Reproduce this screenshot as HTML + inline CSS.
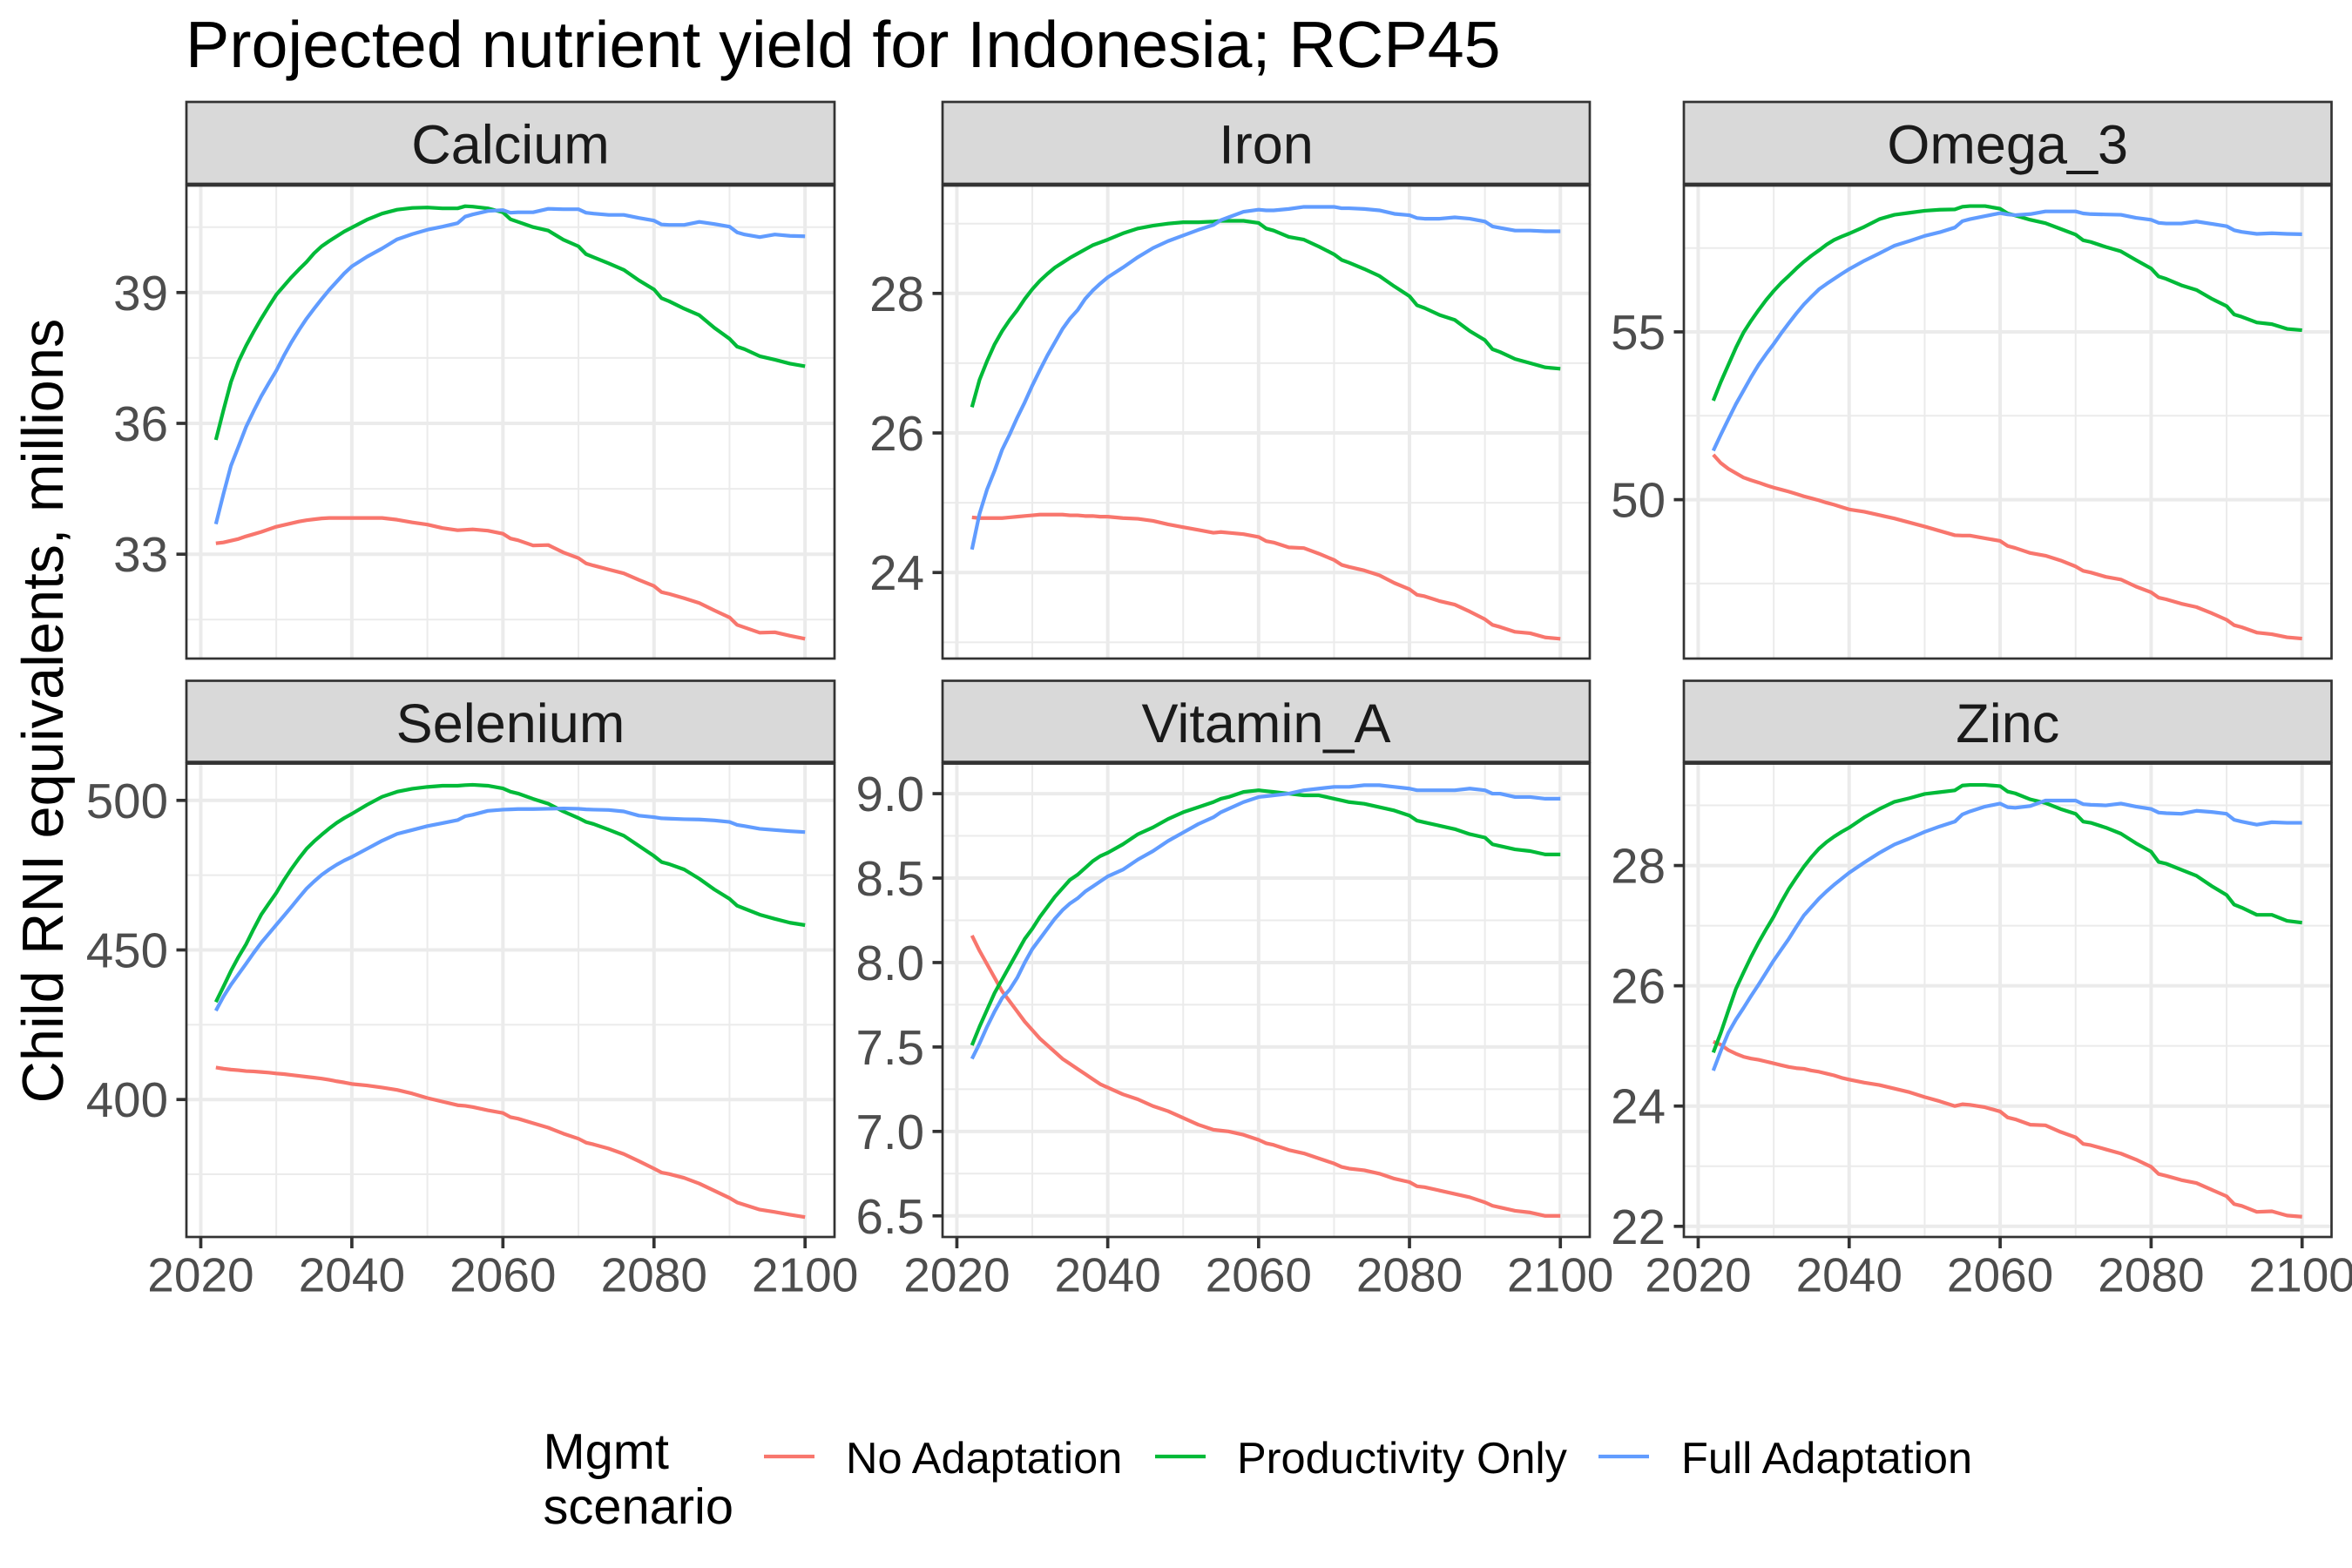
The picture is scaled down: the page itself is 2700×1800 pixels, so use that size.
<!DOCTYPE html>
<html lang="en">
<head>
<meta charset="utf-8">
<title>Projected nutrient yield for Indonesia; RCP45</title>
<style>
html,body{margin:0;padding:0;background:#fff;}
svg{display:block;font-family:"Liberation Sans",Arial,sans-serif;text-rendering:geometricPrecision;}
</style>
</head>
<body>
<svg id="chart" xmlns="http://www.w3.org/2000/svg" width="2700" height="1800" viewBox="0 0 2700 1800">
<rect x="0" y="0" width="2700" height="1800" fill="#ffffff"/>
<text x="213" y="77" font-size="75.45" fill="#000000">Projected nutrient yield for Indonesia; RCP45</text>
<text transform="translate(72,816) rotate(-90)" text-anchor="middle" font-size="66.7" fill="#000000">Child RNI equivalents, millions</text>
<g id="panels"></g>
<g>
<text x="623.5" y="1686" font-size="57.8" fill="#000000">Mgmt</text>
<text x="623.5" y="1749" font-size="57.8" fill="#000000">scenario</text>
<line x1="877" x2="935" y1="1672" y2="1672" stroke="#F8766D" stroke-width="4.2"/>
<text x="971" y="1691" font-size="50.5" fill="#000000">No Adaptation</text>
<line x1="1326" x2="1384" y1="1672" y2="1672" stroke="#00BA38" stroke-width="4.2"/>
<text x="1420" y="1691" font-size="50.5" fill="#000000">Productivity Only</text>
<line x1="1835" x2="1893" y1="1672" y2="1672" stroke="#619CFF" stroke-width="4.2"/>
<text x="1930" y="1691" font-size="50.5" fill="#000000">Full Adaptation</text>
</g>
</svg>
<script>
const years = [2022,2023,2024,2025,2026,2027,2028,2029,2030,2031,2032,2033,2034,2035,2036,2037,2038,2039,2040,2042,2044,2046,2048,2050,2052,2054,2055,2056,2058,2060,2061,2062,2064,2066,2068,2070,2071,2072,2074,2076,2078,2080,2081,2082,2084,2086,2088,2090,2091,2092,2094,2096,2098,2100];
const xTicks = [2020,2040,2060,2080,2100];
const xMinorTicks = [2030,2050,2070,2090];
const xDomain = [2018.1,2103.9];

const calciumNoAdaptation = [33.25,33.27,33.31,33.35,33.41,33.46,33.51,33.57,33.63,33.67,33.71,33.75,33.78,33.8,33.82,33.83,33.83,33.83,33.83,33.83,33.83,33.79,33.73,33.68,33.6,33.55,33.56,33.57,33.54,33.47,33.36,33.32,33.2,33.21,33.04,32.91,32.79,32.74,32.65,32.56,32.41,32.27,32.13,32.09,31.99,31.88,31.71,31.55,31.38,31.32,31.2,31.21,31.13,31.06];
const calciumProductivityOnly = [35.62,36.3,36.95,37.42,37.78,38.1,38.4,38.68,38.95,39.15,39.35,39.53,39.7,39.9,40.06,40.18,40.29,40.4,40.49,40.67,40.81,40.9,40.94,40.95,40.93,40.93,40.98,40.97,40.93,40.84,40.68,40.62,40.5,40.42,40.21,40.06,39.88,39.81,39.67,39.52,39.28,39.07,38.87,38.8,38.63,38.48,38.19,37.94,37.76,37.7,37.54,37.46,37.37,37.31];
const calciumFullAdaptation = [33.69,34.38,35.03,35.47,35.92,36.28,36.62,36.92,37.21,37.55,37.86,38.14,38.4,38.63,38.85,39.06,39.25,39.44,39.6,39.82,40.01,40.22,40.34,40.44,40.51,40.59,40.74,40.79,40.87,40.89,40.83,40.84,40.84,40.92,40.91,40.91,40.83,40.81,40.78,40.78,40.71,40.65,40.56,40.55,40.55,40.62,40.57,40.51,40.38,40.33,40.27,40.33,40.3,40.29];
const calciumTicks = [33,36,39];
const calciumMinorTicks = [31.5,34.5,37.5,40.5];
const calciumDomain = [30.607,41.473];

const ironNoAdaptation = [24.79,24.78,24.78,24.78,24.78,24.79,24.8,24.81,24.82,24.83,24.83,24.83,24.83,24.82,24.82,24.81,24.81,24.8,24.8,24.78,24.77,24.74,24.69,24.65,24.61,24.57,24.58,24.57,24.55,24.51,24.45,24.43,24.36,24.35,24.27,24.18,24.11,24.08,24.03,23.96,23.85,23.76,23.68,23.66,23.59,23.54,23.44,23.33,23.25,23.22,23.15,23.13,23.07,23.05];
const ironProductivityOnly = [26.37,26.76,27.03,27.27,27.46,27.62,27.76,27.92,28.06,28.18,28.28,28.37,28.44,28.51,28.57,28.63,28.69,28.73,28.77,28.86,28.93,28.97,29.0,29.02,29.02,29.03,29.04,29.04,29.04,29.01,28.93,28.9,28.81,28.77,28.67,28.56,28.48,28.44,28.35,28.25,28.1,27.96,27.83,27.79,27.69,27.62,27.46,27.33,27.2,27.16,27.06,27.0,26.94,26.92];
const ironFullAdaptation = [24.33,24.84,25.19,25.46,25.76,25.98,26.22,26.44,26.68,26.9,27.11,27.3,27.49,27.64,27.76,27.92,28.04,28.14,28.23,28.37,28.52,28.65,28.75,28.83,28.91,28.98,29.05,29.09,29.17,29.2,29.19,29.19,29.21,29.24,29.24,29.24,29.22,29.22,29.21,29.19,29.14,29.12,29.08,29.07,29.07,29.09,29.07,29.03,28.96,28.94,28.9,28.9,28.89,28.89];
const ironTicks = [24,26,28];
const ironMinorTicks = [23,25,27,29];
const ironDomain = [22.767,29.558];

const omegaNoAdaptation = [51.34,51.09,50.92,50.79,50.66,50.58,50.51,50.43,50.36,50.3,50.24,50.17,50.1,50.04,49.98,49.91,49.85,49.78,49.71,49.64,49.54,49.44,49.32,49.2,49.07,48.94,48.93,48.93,48.85,48.77,48.62,48.56,48.41,48.33,48.19,48.01,47.88,47.83,47.7,47.62,47.41,47.24,47.08,47.03,46.9,46.8,46.62,46.42,46.26,46.2,46.04,45.99,45.9,45.86];
const omegaProductivityOnly = [52.95,53.51,54.02,54.53,54.98,55.33,55.65,55.95,56.22,56.46,56.67,56.89,57.09,57.27,57.43,57.6,57.74,57.84,57.93,58.13,58.36,58.49,58.55,58.61,58.64,58.65,58.73,58.75,58.75,58.67,58.53,58.47,58.34,58.24,58.07,57.9,57.73,57.68,57.53,57.4,57.14,56.89,56.65,56.58,56.39,56.25,55.99,55.77,55.52,55.45,55.28,55.23,55.09,55.05];
const omegaFullAdaptation = [51.46,51.94,52.4,52.85,53.25,53.65,54.02,54.34,54.64,54.96,55.26,55.55,55.82,56.05,56.27,56.43,56.58,56.73,56.87,57.12,57.34,57.57,57.71,57.86,57.97,58.11,58.3,58.36,58.45,58.54,58.5,58.48,58.51,58.59,58.59,58.59,58.53,58.51,58.5,58.49,58.4,58.34,58.25,58.23,58.23,58.29,58.22,58.15,58.03,57.98,57.92,57.94,57.92,57.91];
const omegaTicks = [50,55];
const omegaMinorTicks = [47.5,52.5,57.5];
const omegaDomain = [45.265,59.387];

const seleniumNoAdaptation = [410.7,410.3,410,409.8,409.5,409.4,409.2,409,408.7,408.5,408.2,407.9,407.6,407.3,407,406.6,406.1,405.7,405.2,404.7,404,403.2,402,400.5,399.3,398.1,397.9,397.5,396.4,395.5,394.1,393.6,392.1,390.6,388.6,386.9,385.6,385,383.6,381.8,379.4,376.9,375.6,375.1,373.8,371.9,369.5,367.1,365.6,364.8,363.2,362.4,361.5,360.7];
const seleniumProductivityOnly = [432.6,437.7,443,447.7,451.9,457,461.8,465.5,469.1,473.3,477.1,480.6,483.8,486.3,488.5,490.6,492.5,494.1,495.5,498.5,501.2,502.9,503.9,504.5,504.9,504.9,505.1,505.2,504.9,504,502.9,502.3,500.5,498.9,496.3,494.1,492.8,492.1,490.2,488.2,484.8,481.4,479.4,478.7,476.9,473.8,470.2,467.1,464.8,463.8,461.8,460.4,459.1,458.3];
const seleniumFullAdaptation = [429.7,434.4,438.4,441.9,445.4,449,452.4,455.4,458.4,461.4,464.4,467.5,470.5,472.9,475.1,476.9,478.5,479.9,481.1,483.8,486.5,488.8,490.1,491.4,492.4,493.4,494.7,495.2,496.5,496.9,497,497.1,497.1,497.2,497.3,497.2,497,496.9,496.8,496.3,494.9,494.4,494,493.9,493.7,493.6,493.3,492.8,491.8,491.4,490.5,490.1,489.7,489.4];
const seleniumTicks = [400,450,500];
const seleniumMinorTicks = [375,425,475];
const seleniumDomain = [354.05,512.58];

const vitaminNoAdaptation = [8.16,8.07,7.99,7.91,7.83,7.77,7.71,7.65,7.6,7.55,7.51,7.47,7.43,7.4,7.37,7.34,7.31,7.28,7.26,7.22,7.19,7.15,7.12,7.08,7.04,7.01,7.005,7.0,6.98,6.95,6.93,6.92,6.89,6.87,6.84,6.81,6.79,6.78,6.77,6.75,6.72,6.7,6.675,6.67,6.65,6.63,6.61,6.58,6.56,6.55,6.53,6.52,6.5,6.5];
const vitaminProductivityOnly = [7.51,7.62,7.72,7.82,7.9,7.98,8.06,8.14,8.2,8.27,8.33,8.39,8.44,8.49,8.52,8.56,8.6,8.63,8.65,8.7,8.76,8.8,8.85,8.89,8.92,8.95,8.97,8.98,9.01,9.02,9.015,9.01,9.0,8.99,8.99,8.97,8.96,8.95,8.94,8.92,8.9,8.87,8.84,8.83,8.81,8.79,8.76,8.74,8.7,8.69,8.67,8.66,8.64,8.64];
const vitaminFullAdaptation = [7.43,7.52,7.62,7.71,7.79,7.84,7.91,8.0,8.08,8.14,8.2,8.26,8.31,8.35,8.38,8.42,8.45,8.48,8.51,8.55,8.61,8.66,8.72,8.77,8.82,8.86,8.89,8.91,8.95,8.98,8.985,8.99,9.0,9.02,9.03,9.04,9.04,9.04,9.05,9.05,9.04,9.03,9.02,9.02,9.02,9.02,9.03,9.02,9.0,9.0,8.98,8.98,8.97,8.97];
const vitaminTicks = [6.5,7,7.5,8,8.5,9];
const vitaminTickLabels = ['6.5','7.0','7.5','8.0','8.5','9.0'];
const vitaminMinorTicks = [6.75,7.25,7.75,8.25,8.75];
const vitaminDomain = [6.375,9.183];

const zincNoAdaptation = [25.07,25.02,24.93,24.87,24.82,24.79,24.77,24.74,24.71,24.68,24.65,24.63,24.62,24.59,24.57,24.54,24.51,24.47,24.44,24.39,24.35,24.29,24.23,24.15,24.08,24.0,24.03,24.02,23.98,23.91,23.81,23.78,23.69,23.68,23.57,23.48,23.37,23.35,23.28,23.21,23.11,22.99,22.87,22.84,22.77,22.72,22.61,22.5,22.37,22.34,22.24,22.25,22.18,22.16];
const zincProductivityOnly = [24.89,25.22,25.59,25.95,26.22,26.48,26.72,26.94,27.15,27.39,27.61,27.8,27.98,28.14,28.28,28.39,28.48,28.56,28.63,28.8,28.94,29.06,29.12,29.19,29.22,29.25,29.33,29.34,29.34,29.32,29.23,29.2,29.1,29.04,28.94,28.86,28.73,28.71,28.63,28.53,28.37,28.23,28.06,28.03,27.93,27.83,27.66,27.51,27.35,27.3,27.18,27.18,27.08,27.05];
const zincFullAdaptation = [24.59,24.92,25.22,25.44,25.63,25.83,26.02,26.22,26.42,26.6,26.78,26.98,27.17,27.31,27.45,27.57,27.68,27.78,27.88,28.05,28.21,28.35,28.45,28.56,28.65,28.73,28.85,28.9,28.98,29.03,28.97,28.96,28.99,29.08,29.08,29.08,29.02,29.01,29.0,29.03,28.98,28.94,28.88,28.87,28.86,28.91,28.89,28.86,28.76,28.73,28.68,28.72,28.71,28.71];
const zincTicks = [22,24,26,28];
const zincMinorTicks = [23,25,27,29];
const zincDomain = [21.823,29.709];

const seriesKeys = ['no-adaptation','productivity-only','full-adaptation'];
const seriesColors = ['#F8766D','#00BA38','#619CFF'];

const SVG_NS = 'http://www.w3.org/2000/svg';
const root = document.getElementById('panels');

function make(tag, attrs, parent, text) {
  const node = document.createElementNS(SVG_NS, tag);
  for (const k in attrs) node.setAttribute(k, attrs[k]);
  if (text !== undefined) node.textContent = text;
  parent.appendChild(node);
  return node;
}

function linear(domain, range) {
  return function (v) {
    return range[0] + (v - domain[0]) / (domain[1] - domain[0]) * (range[1] - range[0]);
  };
}

function drawPanel(cfg) {
  const slug = cfg.title.toLowerCase().replace('_', '-');
  const x = linear(xDomain, [cfg.left, cfg.right]);
  const y = linear(cfg.domain, [cfg.bottom, cfg.top]);

  const g = make('g', {}, root);
  
  

  const strip = make('rect', {x: cfg.left, y: cfg.stripTop, width: cfg.right - cfg.left, height: cfg.top - 1 - cfg.stripTop, fill: '#d9d9d9', stroke: '#333333', 'stroke-width': 2.7}, g);
  
  

  const stripLabel = make('text', {x: (cfg.left + cfg.right) / 2, y: cfg.stripTop + 70.5, 'text-anchor': 'middle', 'font-size': 63, fill: '#1a1a1a'}, g, cfg.title);
  
  

  cfg.minorTicks.forEach(function (v) {
    const line = make('line', {x1: cfg.left, x2: cfg.right, y1: y(v), y2: y(v), stroke: '#ebebeb', 'stroke-width': 2}, g);
    
    
  });
  xMinorTicks.forEach(function (v) {
    const line = make('line', {x1: x(v), x2: x(v), y1: cfg.top, y2: cfg.bottom, stroke: '#ebebeb', 'stroke-width': 2}, g);
    
    
  });
  cfg.ticks.forEach(function (v) {
    const line = make('line', {x1: cfg.left, x2: cfg.right, y1: y(v), y2: y(v), stroke: '#ebebeb', 'stroke-width': 4}, g);
    
    
  });
  xTicks.forEach(function (v) {
    const line = make('line', {x1: x(v), x2: x(v), y1: cfg.top, y2: cfg.bottom, stroke: '#ebebeb', 'stroke-width': 4}, g);
    
    
  });

  cfg.series.forEach(function (values, s) {
    let d = '';
    values.forEach(function (v, i) {
      d += (i ? 'L' : 'M') + x(years[i]).toFixed(2) + ' ' + y(v).toFixed(2);
    });
    const path = make('path', {d: d, fill: 'none', stroke: seriesColors[s], 'stroke-width': 4.2, 'stroke-linejoin': 'round'}, g);
    
    
  });

  const border = make('rect', {x: cfg.left, y: cfg.top + 1, width: cfg.right - cfg.left, height: cfg.bottom - cfg.top - 1, fill: 'none', stroke: '#333333', 'stroke-width': 2.7}, g);
  
  

  cfg.ticks.forEach(function (v, i) {
    const tick = make('line', {x1: cfg.left - 11.5, x2: cfg.left, y1: y(v), y2: y(v), stroke: '#333333', 'stroke-width': 3.7}, g);
    
    
    const label = make('text', {x: cfg.left - 21, y: y(v) + 20, 'text-anchor': 'end', 'font-size': 56.5, fill: '#4d4d4d'}, g, cfg.labels ? cfg.labels[i] : String(v));
    
    
  });

  if (cfg.showX) {
    xTicks.forEach(function (v) {
      const tick = make('line', {x1: x(v), x2: x(v), y1: cfg.bottom, y2: cfg.bottom + 13, stroke: '#333333', 'stroke-width': 3.7}, g);
      
      
      const label = make('text', {x: x(v), y: cfg.bottom + 62.5, 'text-anchor': 'middle', 'font-size': 55, fill: '#4d4d4d'}, g, String(v));
      
      
    });
  }
}

const row1 = {stripTop: 117, top: 212, bottom: 756, showX: false};
const row2 = {stripTop: 781.5, top: 875.6, bottom: 1420, showX: true};

drawPanel(Object.assign({title: 'Calcium', left: 214, right: 958, ticks: calciumTicks, minorTicks: calciumMinorTicks, domain: calciumDomain, series: [calciumNoAdaptation, calciumProductivityOnly, calciumFullAdaptation]}, row1));
drawPanel(Object.assign({title: 'Iron', left: 1082, right: 1825, ticks: ironTicks, minorTicks: ironMinorTicks, domain: ironDomain, series: [ironNoAdaptation, ironProductivityOnly, ironFullAdaptation]}, row1));
drawPanel(Object.assign({title: 'Omega_3', left: 1933, right: 2676.5, ticks: omegaTicks, minorTicks: omegaMinorTicks, domain: omegaDomain, series: [omegaNoAdaptation, omegaProductivityOnly, omegaFullAdaptation]}, row1));
drawPanel(Object.assign({title: 'Selenium', left: 214, right: 958, ticks: seleniumTicks, minorTicks: seleniumMinorTicks, domain: seleniumDomain, series: [seleniumNoAdaptation, seleniumProductivityOnly, seleniumFullAdaptation]}, row2));
drawPanel(Object.assign({title: 'Vitamin_A', left: 1082, right: 1825, ticks: vitaminTicks, labels: vitaminTickLabels, minorTicks: vitaminMinorTicks, domain: vitaminDomain, series: [vitaminNoAdaptation, vitaminProductivityOnly, vitaminFullAdaptation]}, row2));
drawPanel(Object.assign({title: 'Zinc', left: 1933, right: 2676.5, ticks: zincTicks, minorTicks: zincMinorTicks, domain: zincDomain, series: [zincNoAdaptation, zincProductivityOnly, zincFullAdaptation]}, row2));
</script>
</body>
</html>
